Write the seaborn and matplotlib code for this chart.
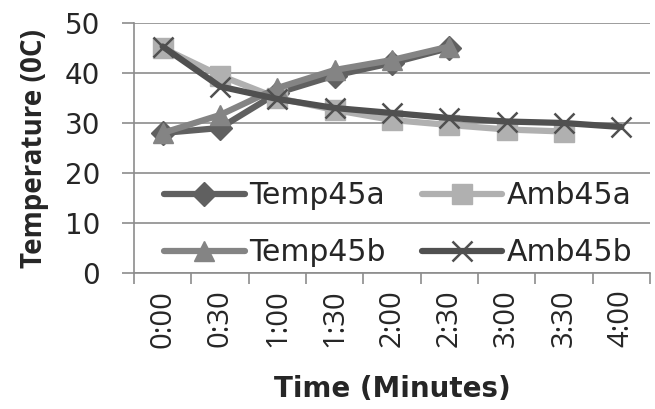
import matplotlib
matplotlib.use("Agg")
import matplotlib.pyplot as plt
import seaborn as sns
import numpy as np

times = ["0:00", "0:30", "1:00", "1:30", "2:00", "2:30", "3:00", "3:30", "4:00"]
temp45a = [28, 29, 36, 39.5, 42, 45]
amb45a = [45, 39.5, 35, 32.6, 30.6, 29.6, 28.7, 28.3]
temp45b = [28, 31.6, 37, 40.6, 42.6, 45.3]
amb45b = [45.3, 37.3, 34.8, 33, 32, 31, 30.3, 30, 29.2]
yticks = [0, 10, 20, 30, 40, 50]

sns.set_theme(style="white")
plt.rcParams['font.family'] = ['DejaVu Sans']

fig = plt.figure(figsize=(6.55, 4.09), dpi=100)
ax = fig.add_axes([134 / 655, 1 - 273 / 409, (650 - 134) / 655, 250 / 409])

series = [
    ("Temp45a", temp45a, "#606060", "D", 12, 1.0),
    ("Amb45a", amb45a, "#b0b0b0", "s", 14, 1.0),
    ("Temp45b", temp45b, "#848484", "^", 15, 1.0),
    ("Amb45b", amb45b, "#505050", "x", 15, 1.8),
]
for name, vals, col, mk, ms, mew in series:
    xs = list(range(len(vals)))
    sns.lineplot(x=xs, y=vals, ax=ax, color=col, marker=mk, markersize=ms,
                 markeredgewidth=mew, markeredgecolor=col, linewidth=4.5,
                 label=name, solid_capstyle="round")

ax.set_xlim(-0.5, len(times) - 0.5)
ax.set_ylim(0, 50)
ax.set_yticks(yticks)
ax.set_yticklabels([str(v) for v in yticks], fontfamily="DejaVu Sans", fontsize=20)
ax.set_xticks(range(len(times)))
ax.set_xticklabels(times, rotation=90, fontfamily="Open Sans", fontsize=21)
ax.set_xticks(np.arange(-0.5, len(times), 1), minor=True)
ax.tick_params(axis="x", which="major", length=0, pad=12)
ax.tick_params(axis="x", which="minor", length=8, width=1.2, color="#8c8c8c", direction="out", bottom=True)
ax.tick_params(axis="y", which="major", length=8.5, width=1.2, color="#8c8c8c", direction="out", left=True, pad=16)
ax.grid(axis="y", color="#8c8c8c", linewidth=1.2)
ax.set_axisbelow(True)
for s in ["top", "right"]:
    ax.spines[s].set_visible(False)
for s in ["left", "bottom"]:
    ax.spines[s].set_color("#8c8c8c")
    ax.spines[s].set_linewidth(1.2)

ax.set_ylabel("Temperature (0C)", fontsize=20, fontweight="bold", fontfamily="Open Sans", labelpad=11)
ax.set_xlabel("Time (Minutes)", fontsize=20, fontweight="bold", fontfamily="DejaVu Sans", labelpad=20)

h, l = ax.get_legend_handles_labels()
order = [0, 2, 1, 3]
leg = ax.legend([h[i] for i in order], [l[i] for i in order], ncol=2, frameon=False,
                loc="center", bbox_to_anchor=(0.512, 0.195), borderpad=0,
                prop={"family": "DejaVu Sans", "size": 21.5},
                handlelength=2.7, handletextpad=0.15, columnspacing=1.2, labelspacing=0.95)

fig.savefig("out.png", dpi=100)
